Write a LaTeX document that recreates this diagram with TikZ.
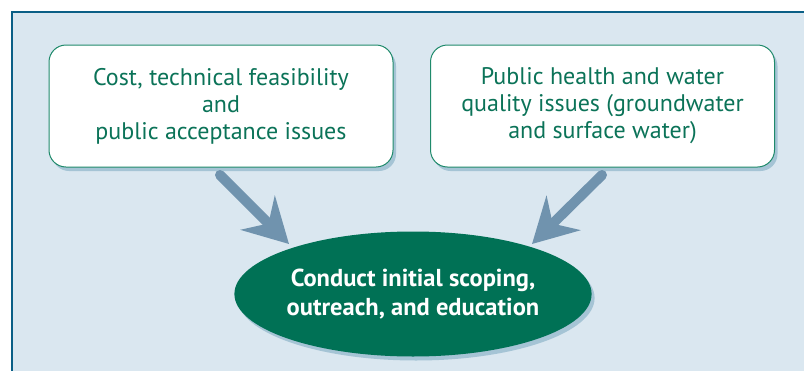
\documentclass[tikz,border=0pt]{standalone}
\usepackage{fontspec}
\setmainfont{PT Sans}
\usetikzlibrary{shapes.geometric,arrows.meta,shadows}
\definecolor{panelbg}{HTML}{DAE7F0}
\definecolor{panelline}{HTML}{0A5F86}
\definecolor{boxline}{HTML}{1F8A6B}
\definecolor{txtgreen}{HTML}{0B7358}
\definecolor{ellfill}{HTML}{007155}
\definecolor{arrowblue}{HTML}{7093AE}
\tikzset{
  issuebox/.style={draw=boxline, line width=1pt, fill=white, rounded corners=17pt,
    minimum width=344pt, minimum height=122pt, align=center, text=txtgreen,
    font=\fontsize{24}{27}\selectfont,
    drop shadow={shadow xshift=3pt, shadow yshift=-4pt, opacity=0.25, fill=panelline}},
  goal/.style={ellipse, fill=ellfill, minimum width=354pt, minimum height=125pt,
    align=center, text=white, font=\bfseries\fontsize{24.5}{29}\selectfont, inner sep=0pt,
    drop shadow={shadow xshift=3pt, shadow yshift=-4pt, opacity=0.25, fill=panelline}},
  bigarrow/.style={draw=arrowblue, line width=10pt, line cap=round,
    -{Stealth[length=44pt, width=48pt, inset=15pt]}}
}
\begin{document}
\begin{tikzpicture}[x=1pt,y=-1pt]
\useasboundingbox (0,0) rectangle (804,370);
\fill[white] (0,0) rectangle (804,370);
\fill[panelbg] (12,12) rectangle (806,372);
\draw[panelline, line width=2pt] (12,372) -- (12,12) -- (806,12);
\node[issuebox] (cost) at (221,106) {Cost, technical feasibility\\and\\public acceptance issues};
\node[issuebox] (health) at (602.5,106) {Public health and water\\quality issues (groundwater\\and surface water)};
\node[goal] (scope) at (413,294) {Conduct initial scoping,\\outreach, and education};
\coordinate (a1s) at (220,175);
\coordinate (a1e) at (289,244);
\coordinate (a2s) at (602,175);
\coordinate (a2e) at (532,244);
\draw[bigarrow] (a1s) -- (a1e);
\draw[bigarrow] (a2s) -- (a2e);
\end{tikzpicture}
\end{document}
